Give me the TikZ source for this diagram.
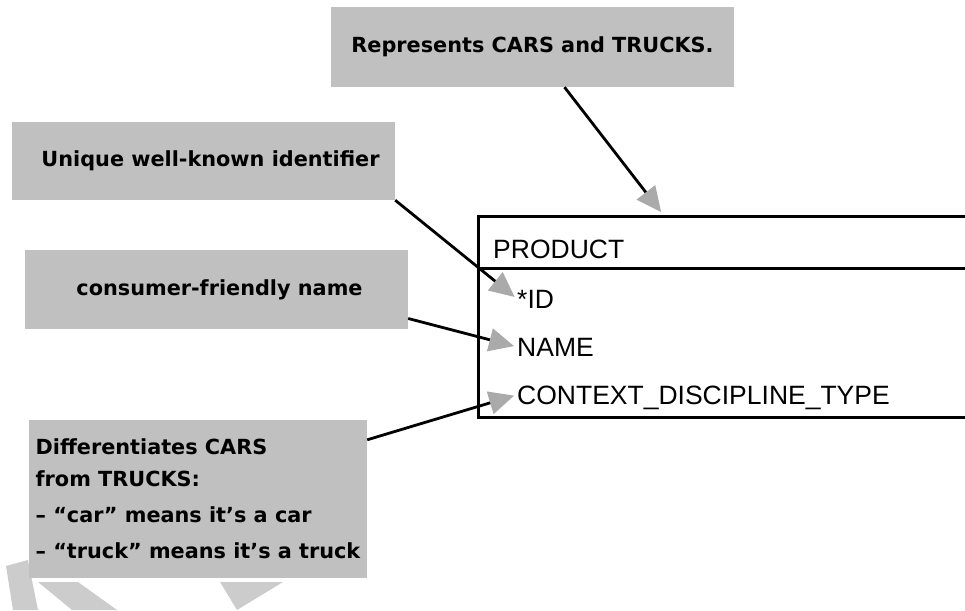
\documentclass[tikz,border=0pt]{standalone}
\usepackage{fontspec}
\setmainfont{DejaVu Sans}
\newfontfamily\tablefont{Liberation Sans}
\usetikzlibrary{arrows.meta, positioning}

\definecolor{notegray}{RGB}{192,192,192}
\definecolor{tipgray}{RGB}{170,170,170}
\definecolor{fadegray}{RGB}{204,204,204}

\tikzset{
  note/.style={fill=notegray, inner sep=0pt,
               font=\bfseries\fontsize{20.8}{32}\selectfont},
  field/.style={anchor=base west, inner sep=0pt, text depth=0pt,
                font=\tablefont\fontsize{26.5}{30}\selectfont},
  link/.style={line width=2.8pt, shorten >=3pt,
               -{Triangle[length=25pt, width=23pt, color=tipgray]}}
}

\begin{document}
\begin{tikzpicture}[x=1pt, y=-1pt]
  \useasboundingbox (0,0) rectangle (965,610);

  % faded shapes along the bottom edge
  \fill[fadegray] (6,566) -- (28,560) -- (38,610) -- (13,610) -- cycle;
  \fill[fadegray] (38,582) -- (78,582) -- (117,610) -- (72,610) -- cycle;
  \fill[fadegray] (220,582) -- (283,582) -- (237,610) -- cycle;

  % callouts
  \node[note, minimum width=403pt, minimum height=80pt] (what) at (532.5,47)
    {Represents CARS and TRUCKS.};
  \node[note, minimum width=383pt, minimum height=78pt] (uid) at (203.5,161)
    {\hspace*{14pt}Unique well-known identifier};
  \node[note, minimum width=383pt, minimum height=79pt] (nm) at (216.5,289.5)
    {\hspace*{6pt}consumer-friendly name};
  \node[note, minimum width=338pt, minimum height=158pt, align=left] (kind)
    at (198,499)
    {Differentiates CARS\\from TRUCKS:\\[4pt]– “car” means it’s a car\\[4pt]–
     “truck” means it’s a truck};

  % entity box
  \node[draw, line width=3pt, inner sep=0pt, minimum width=502pt,
        minimum height=201pt] (product) at (729,316.5) {};
  \draw[line width=3pt] ([yshift=-54pt]product.north west)
    -- ([yshift=-54pt]product.north east);

  \node[field] (title) at (493,258) {PRODUCT};
  \node[field] (id) at (517,308) {*ID};
  \node[field] (name) at (517,356) {NAME};
  \node[field] (ctx) at (517,404) {CONTEXT\_DISCIPLINE\_TYPE};

  % pointers
  \draw[link] ([xshift=32pt]what.south) -- ([xshift=-66pt]product.north);
  \draw[link] (uid.south east) -- (id.west);
  \draw[link] ([yshift=-29pt]nm.east) -- (name.west);
  \draw[link] ([yshift=-20pt]kind.north east) -- (ctx.west);
\end{tikzpicture}
\end{document}
